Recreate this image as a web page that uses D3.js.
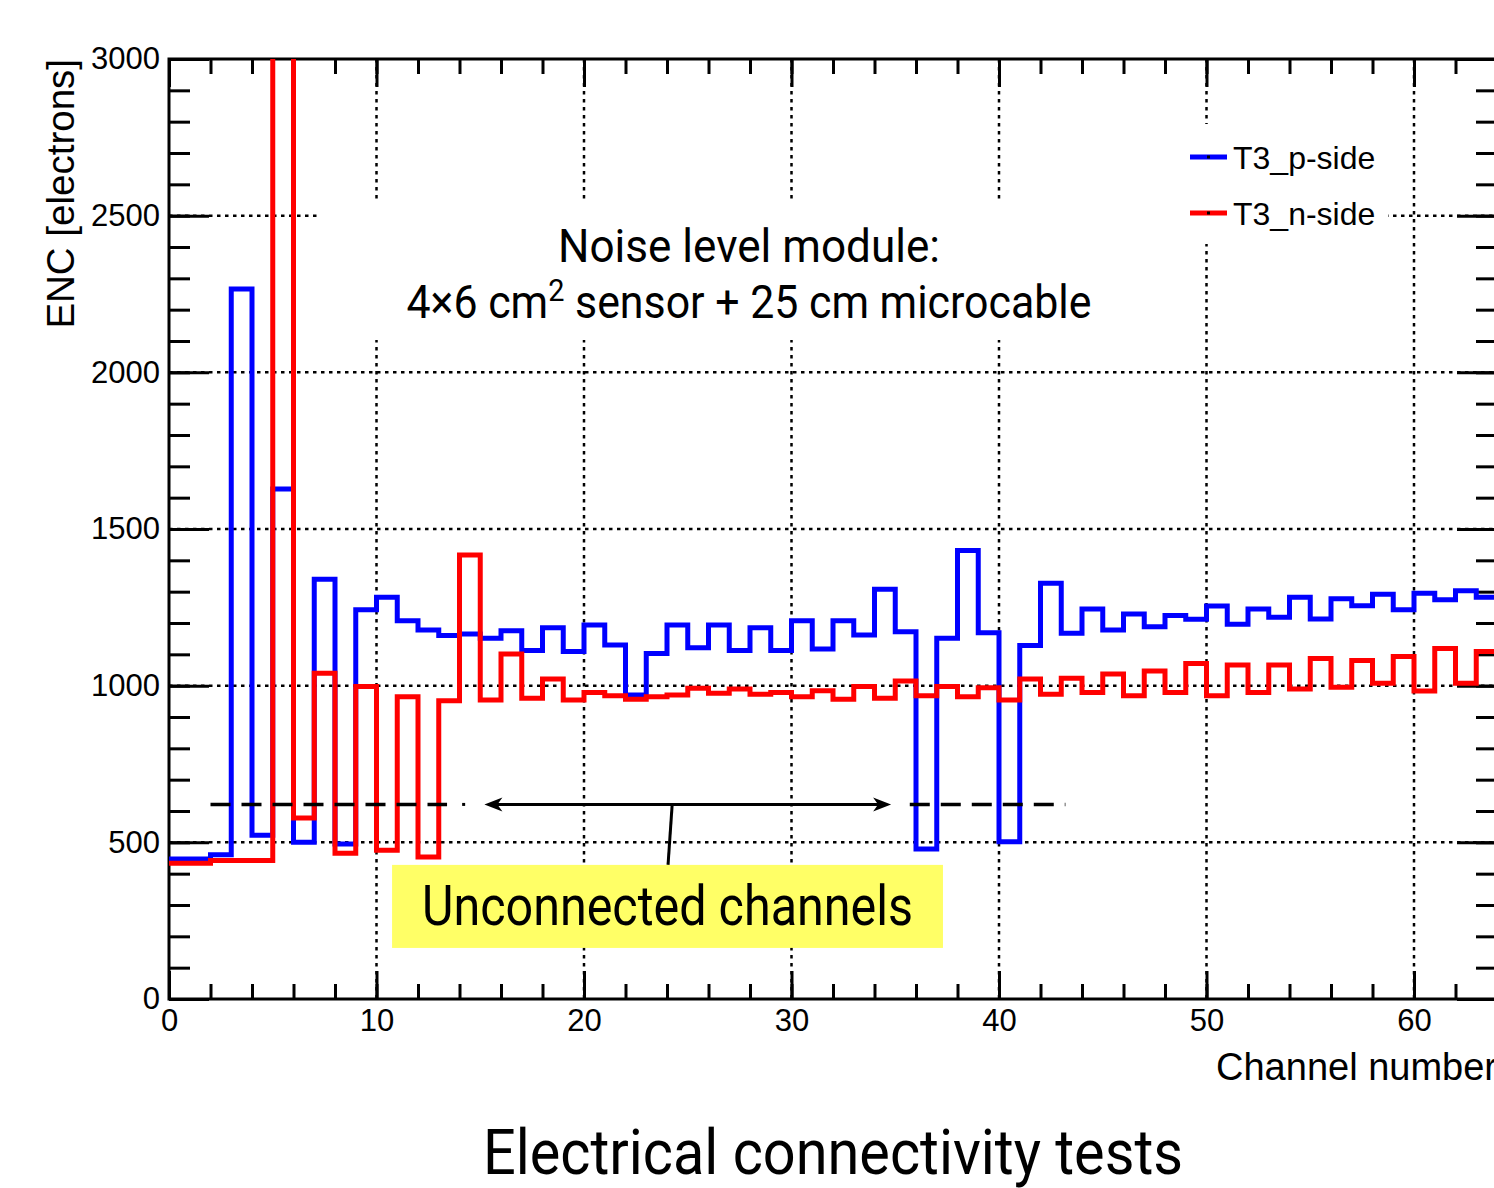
<!DOCTYPE html>
<html>
<head>
<meta charset="utf-8">
<script src="https://cdn.jsdelivr.net/npm/d3@7"></script>
<style>
  body { margin: 0; background: #fff; }
  svg { display: block; }
  .axis text { font-family: "Liberation Sans", Arial, sans-serif; font-size: 31px; fill: #000; }
  .axis line { stroke: #000; stroke-width: 3; }
  .axis path { display: none; }
  .grid line { stroke: #000; stroke-width: 2.5; stroke-dasharray: 3.5 4.5; }
  .cond { font-family: "Liberation Sans Narrow", "Roboto", sans-serif; fill: #000; }
</style>
</head>
<body>
<svg id="chart" width="1494" height="1188"></svg>
<script>
// channel numbers (bin low edges), 64 bins of width 1
var channels = d3.range(0, 64);

// ENC per channel, p-side (blue)
var pSide = [447, 447, 460, 2266, 523, 1628, 500, 1340, 495, 1242,
  1282, 1207, 1178, 1160, 1165, 1151, 1175, 1112, 1185, 1109,
  1194, 1130, 970, 1103, 1194, 1121, 1194, 1112, 1185, 1112,
  1207, 1117, 1207, 1162, 1308, 1172, 479, 1151, 1431, 1169,
  502, 1128, 1327, 1167, 1245, 1178, 1229, 1188, 1224, 1212,
  1254, 1196, 1245, 1218, 1282, 1213, 1277, 1255, 1292, 1242,
  1295, 1274, 1303, 1282];

// ENC per channel, n-side (red); channel 5 is off scale
var nSide = [433, 433, 442, 442, 442, 3600, 578, 1040, 465, 997,
  475, 965, 453, 952, 1417, 954, 1101, 960, 1021, 954,
  978, 968, 957, 965, 970, 992, 976, 989, 973, 978,
  965, 984, 957, 997, 960, 1015, 968, 997, 965, 993,
  954, 1021, 973, 1024, 978, 1037, 968, 1047, 978, 1071,
  968, 1066, 978, 1066, 989, 1087, 995, 1080, 1008, 1093,
  983, 1119, 1008, 1109];

var xMajor = [0, 10, 20, 30, 40, 50, 60];
var xMinor = d3.range(0, 65, 2);
var yMajor = [0, 500, 1000, 1500, 2000, 2500, 3000];
var yMinor = d3.range(0, 3001, 100);

var seriesNames = ["T3_p-side", "T3_n-side"];
var seriesColors = ["#0000ff", "#ff0000"];

// annotation, in channel / ENC units
var unconnectedLevel = 621;
var leftDash = [2.0, 13.4];
var leftDot = 14.2;
var arrowSpan = [15.2, 34.8];
var rightDash = [35.7, 43.2];
var pointer = [[24.25, 621], [24.05, 428]];
var noteBox = [10.75, 37.3, 428, 163];

var svg = d3.select('#chart');
var plotL = 169, plotR = 1497, plotT = 59, plotB = 999;

var x = d3.scaleLinear().domain([0, 64]).range([plotL, plotR]);
var y = d3.scaleLinear().domain([0, 3000]).range([plotB, plotT]);

svg.append('defs').append('clipPath').attr('id', 'frame')
  .append('rect')
  .attr('x', plotL - 3).attr('y', plotT)
  .attr('width', plotR - plotL + 6).attr('height', plotB - plotT);

// grid
var grid = svg.append('g').attr('class', 'grid');
grid.selectAll('.gx').data(xMajor.filter(function (d) { return d > 0; }))
  .enter().append('line')
  .attr('x1', function (d) { return x(d); }).attr('x2', function (d) { return x(d); })
  .attr('y1', plotT).attr('y2', plotB);
grid.selectAll('.gy').data(yMajor.filter(function (d) { return d > 0 && d < 3000; }))
  .enter().append('line')
  .attr('x1', plotL).attr('x2', plotR)
  .attr('y1', function (d) { return y(d); }).attr('y2', function (d) { return y(d); });

// axes
function addAxis(axis, tx, ty) {
  return svg.append('g').attr('class', 'axis')
    .attr('transform', 'translate(' + tx + ',' + ty + ')')
    .call(axis);
}
addAxis(d3.axisBottom(x).tickValues(xMinor).tickSize(-15).tickFormat(''), 0, plotB);
addAxis(d3.axisBottom(x).tickValues(xMajor).tickSize(-28).tickPadding(10).tickFormat(d3.format('d')), 0, plotB);
addAxis(d3.axisTop(x).tickValues(xMinor).tickSize(-15).tickFormat(''), 0, plotT);
addAxis(d3.axisTop(x).tickValues(xMajor).tickSize(-28).tickFormat(''), 0, plotT);
addAxis(d3.axisLeft(y).tickValues(yMinor).tickSize(-21).tickFormat(''), plotL, 0);
addAxis(d3.axisLeft(y).tickValues(yMajor).tickSize(-40).tickPadding(9).tickFormat(d3.format('d')), plotL, 0);
addAxis(d3.axisRight(y).tickValues(yMinor).tickSize(-21).tickFormat(''), plotR, 0);
addAxis(d3.axisRight(y).tickValues(yMajor).tickSize(-40).tickFormat(''), plotR, 0);

svg.append('rect')
  .attr('x', plotL).attr('y', plotT).attr('width', plotR - plotL).attr('height', plotB - plotT)
  .attr('fill', 'none').attr('stroke', '#000').attr('stroke-width', 3);

// histograms as step lines, drawn over the frame
var step = d3.line()
  .x(function (d) { return x(d[0]); })
  .y(function (d) { return y(d[1]); })
  .curve(d3.curveStepAfter);

function histPoints(values) {
  var pts = channels.map(function (c, i) { return [c, values[i]]; });
  pts.push([64, values[values.length - 1]]);
  return pts;
}

var hists = svg.append('g').attr('clip-path', 'url(#frame)');
[pSide, nSide].forEach(function (values, i) {
  hists.append('path')
    .attr('d', step(histPoints(values)))
    .attr('fill', 'none')
    .attr('stroke', seriesColors[i])
    .attr('stroke-width', 5)
    .attr('stroke-linejoin', 'miter');
});

// white text pave and legend, covering the grid
svg.append('rect').attr('x', 317).attr('y', 203).attr('width', 873).attr('height', 137).attr('fill', '#fff');
var legend = svg.append('g');
legend.append('rect').attr('x', 1180).attr('y', 124).attr('width', 208).attr('height', 120).attr('fill', '#fff');
seriesNames.forEach(function (name, i) {
  var ly = 157 + i * 56;
  legend.append('line')
    .attr('x1', 1190).attr('x2', 1227).attr('y1', ly).attr('y2', ly)
    .attr('stroke', seriesColors[i]).attr('stroke-width', 5);
  legend.append('rect')
    .attr('x', 1207).attr('y', ly - 1.5).attr('width', 3).attr('height', 3).attr('fill', '#000');
  legend.append('text')
    .attr('x', 1233).attr('y', ly).attr('dy', '0.36em')
    .style('font-family', '"Liberation Sans", Arial, sans-serif')
    .style('font-size', '32px')
    .text(name);
});

// pave text
svg.append('text').attr('class', 'cond')
  .attr('x', 749).attr('y', 262).attr('text-anchor', 'middle')
  .style('font-size', '46px')
  .attr('textLength', 382).attr('lengthAdjust', 'spacingAndGlyphs')
  .text('Noise level module:');
var line2 = svg.append('text').attr('class', 'cond')
  .attr('x', 749).attr('y', 318).attr('text-anchor', 'middle')
  .style('font-size', '46px')
  .attr('textLength', 685).attr('lengthAdjust', 'spacingAndGlyphs');
line2.append('tspan').text('4\u00d76 cm');
line2.append('tspan').attr('dy', -17).style('font-size', '31px').text('2');
line2.append('tspan').attr('dy', 17).text(' sensor + 25 cm microcable');

// axis titles
svg.append('text')
  .attr('x', 1497).attr('y', 1080).attr('text-anchor', 'end')
  .style('font-family', '"Liberation Sans", Arial, sans-serif').style('font-size', '38px')
  .text('Channel number');
svg.append('text')
  .attr('transform', 'translate(74,' + plotT + ') rotate(-90)')
  .attr('text-anchor', 'end')
  .style('font-family', '"Liberation Sans", Arial, sans-serif').style('font-size', '38.5px')
  .text('ENC [electrons]');

// unconnected-channel annotation
var ann = svg.append('g');
var yLev = y(unconnectedLevel);
[leftDash, rightDash].forEach(function (seg) {
  ann.append('line')
    .attr('x1', x(seg[0])).attr('x2', x(seg[1])).attr('y1', yLev).attr('y2', yLev)
    .attr('stroke', '#000').attr('stroke-width', 3.5).attr('stroke-dasharray', '20 11');
});
ann.append('rect').attr('x', x(leftDot) - 1.5).attr('y', yLev - 1.5).attr('width', 3).attr('height', 3).attr('fill', '#000');
ann.append('line')
  .attr('x1', x(arrowSpan[0]) + 4).attr('x2', x(arrowSpan[1]) - 4).attr('y1', yLev).attr('y2', yLev)
  .attr('stroke', '#000').attr('stroke-width', 3);
[[arrowSpan[0], 1], [arrowSpan[1], -1]].forEach(function (a) {
  var tip = x(a[0]), dir = a[1];
  ann.append('path')
    .attr('d', 'M' + tip + ',' + yLev + 'L' + (tip + dir * 18) + ',' + (yLev - 7) +
      'L' + (tip + dir * 13) + ',' + yLev + 'L' + (tip + dir * 18) + ',' + (yLev + 7) + 'Z')
    .attr('fill', '#000');
});
ann.append('line')
  .attr('x1', x(pointer[0][0])).attr('y1', y(pointer[0][1]))
  .attr('x2', x(pointer[1][0])).attr('y2', y(pointer[1][1]))
  .attr('stroke', '#000').attr('stroke-width', 3);
ann.append('rect')
  .attr('x', x(noteBox[0])).attr('y', y(noteBox[2]))
  .attr('width', x(noteBox[1]) - x(noteBox[0])).attr('height', y(noteBox[3]) - y(noteBox[2]))
  .attr('fill', '#ffff66');
ann.append('text').attr('class', 'cond')
  .attr('x', 667.5).attr('y', 925).attr('text-anchor', 'middle')
  .style('font-size', '56px')
  .attr('textLength', 491).attr('lengthAdjust', 'spacingAndGlyphs')
  .text('Unconnected channels');

// slide caption
svg.append('text').attr('class', 'cond')
  .attr('x', 833).attr('y', 1174).attr('text-anchor', 'middle')
  .style('font-size', '63px')
  .attr('textLength', 700).attr('lengthAdjust', 'spacingAndGlyphs')
  .text('Electrical connectivity tests');
</script>
</body>
</html>
